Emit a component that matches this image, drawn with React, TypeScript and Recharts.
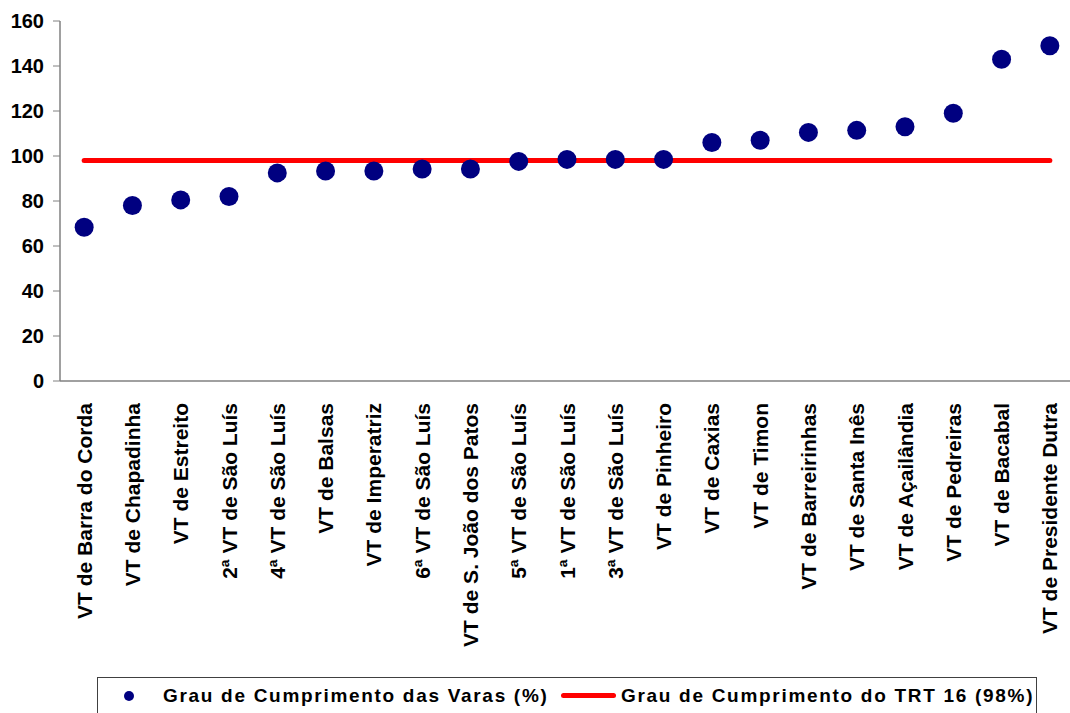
import { ComposedChart, Line, Scatter, XAxis, YAxis, Legend } from 'recharts';

// Varas do Trabalho (category order as in the chart)
const varas = [
  'VT de Barra do Corda',
  'VT de Chapadinha',
  'VT de Estreito',
  '2ª VT de São Luís',
  '4ª VT de São Luís',
  'VT de Balsas',
  'VT de Imperatriz',
  '6ª VT de São Luís',
  'VT de S. João dos Patos',
  '5ª VT de São Luís',
  '1ª VT de São Luís',
  '3ª VT de São Luís',
  'VT de Pinheiro',
  'VT de Caxias',
  'VT de Timon',
  'VT de Barreirinhas',
  'VT de Santa Inês',
  'VT de Açailândia',
  'VT de Pedreiras',
  'VT de Bacabal',
  'VT de Presidente Dutra',
];

// Grau de cumprimento de cada vara (%)
const cumprimento = [
  68.3, 78, 80.5, 82, 92.5, 93.3, 93.3, 94.2, 94.2, 97.6, 98.5, 98.5, 98.5,
  106, 107, 110.5, 111.4, 113, 119, 143, 149,
];

// Grau de cumprimento do TRT 16 (%)
const metaTRT = 98;

const yTicks = [0, 20, 40, 60, 80, 100, 120, 140, 160];

const FONT = '"Liberation Sans", Arial, sans-serif';

// x is the band centre on a 0..n numeric axis, so tick marks can sit on the band edges
const data = varas.map((nome, i) => ({
  x: i + 0.5,
  nome,
  varas: cumprimento[i],
  trt: metaTRT,
}));

const boundaryTicks = varas.map((_, i) => i).concat(varas.length);
const centerTicks = data.map((d) => d.x);

function VaraTick(props: any) {
  const { x, y, payload } = props;
  const nome = varas[Math.floor(payload.value)];
  return (
    <g transform={`translate(${x},${y})`}>
      <text
        transform="rotate(-90)"
        textAnchor="end"
        dy="0.36em"
        fontFamily={FONT}
        fontWeight="bold"
        fontSize={21}
        fill="#000"
      >
        {nome}
      </text>
    </g>
  );
}

function Dot(props: any) {
  const { cx, cy } = props;
  return <circle cx={cx} cy={cy} r={9.5} fill="#000080" />;
}

function LegendBox() {
  const txt = {
    position: 'absolute' as const,
    top: 6,
    fontFamily: FONT,
    fontWeight: 'bold' as const,
    fontSize: 19,
    letterSpacing: 1.7,
    lineHeight: '24px',
    whiteSpace: 'nowrap' as const,
    color: '#000',
  };
  return (
    <div
      style={{
        position: 'relative',
        width: 940,
        height: 40,
        border: '1px solid #404040',
        boxSizing: 'border-box',
        background: '#fff',
      }}
    >
      <span
        style={{
          position: 'absolute',
          left: 26,
          top: 13,
          width: 10,
          height: 10,
          borderRadius: '50%',
          background: '#000080',
        }}
      />
      <span style={{ ...txt, left: 65 }}>Grau de Cumprimento das Varas (%)</span>
      <span
        style={{
          position: 'absolute',
          left: 463,
          top: 15,
          width: 55,
          height: 5,
          borderRadius: 3,
          background: '#ff0000',
        }}
      />
      <span style={{ ...txt, left: 523 }}>Grau de Cumprimento do TRT 16 (98%)</span>
    </div>
  );
}

export default function App() {
  return (
    <div style={{ position: 'absolute', left: 0, top: 0, width: 1070, height: 713, background: '#fff' }}>
      <ComposedChart
        width={1070}
        height={713}
        data={data}
        margin={{ top: 21, right: -4, bottom: 0, left: 0 }}
      >
        <XAxis
          xAxisId="b"
          type="number"
          dataKey="x"
          domain={[0, varas.length]}
          ticks={boundaryTicks}
          tick={false}
          tickSize={6}
          height={1}
          stroke="#808080"
          tickLine={{ stroke: '#808080' }}
          axisLine={{ stroke: '#808080', strokeWidth: 1.5 }}
        />
        <XAxis
          xAxisId="lbl"
          type="number"
          dataKey="x"
          domain={[0, varas.length]}
          ticks={centerTicks}
          tick={<VaraTick />}
          tickSize={0}
          tickMargin={21}
          axisLine={false}
          tickLine={false}
          height={291}
          interval={0}
        />
        <YAxis
          type="number"
          domain={[0, 160]}
          ticks={yTicks}
          width={60}
          tickSize={7}
          tickMargin={9}
          stroke="#808080"
          axisLine={{ stroke: '#808080', strokeWidth: 1.5 }}
          tick={{ fill: '#000', fontFamily: FONT, fontWeight: 'bold', fontSize: 20 }}
        />
        <Legend
          verticalAlign="bottom"
          content={<LegendBox />}
          wrapperStyle={{ left: 97, top: 677, width: 940, height: 40 }}
        />
        <Line
          xAxisId="lbl"
          dataKey="trt"
          name="Grau de Cumprimento do TRT 16 (98%)"
          stroke="#ff0000"
          strokeWidth={5}
          strokeLinecap="round"
          dot={false}
          isAnimationActive={false}
        />
        <Scatter
          xAxisId="lbl"
          dataKey="varas"
          name="Grau de Cumprimento das Varas (%)"
          fill="#000080"
          shape={<Dot />}
          isAnimationActive={false}
        />
      </ComposedChart>
    </div>
  );
}
